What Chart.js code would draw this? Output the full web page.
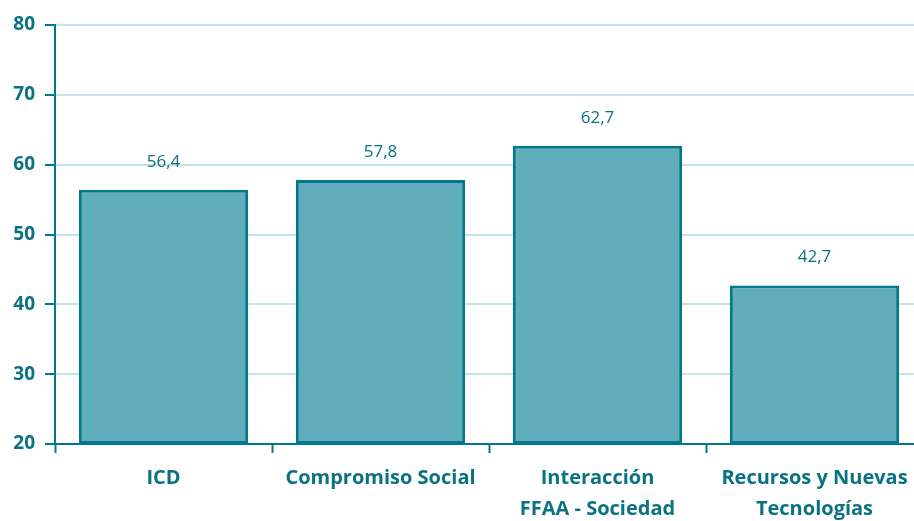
<!DOCTYPE html>
<html>
<head>
<meta charset="utf-8">
<script src="https://cdn.jsdelivr.net/npm/chart.js@4.4.0/dist/chart.umd.min.js"></script>
<style>
  html, body { margin: 0; padding: 0; background: #fff; overflow: hidden; }
  #wrap { width: 914px; height: 521px; overflow: hidden; }
  canvas { display: block; }
</style>
</head>
<body>
<div id="wrap"><canvas id="chart" width="923" height="521"></canvas></div>
<script>
const categories = ['ICD', 'Compromiso Social', ['Interacción', 'FFAA - Sociedad'], ['Recursos y Nuevas', 'Tecnologías']];
const values = [56.4, 57.8, 62.7, 42.7];
const yTicks = [20, 30, 40, 50, 60, 70, 80];

const teal = '#007a8a';
const textTeal = '#0b7282';
const barFill = '#62adbb';
const gridBlue = '#c6e3eb';

const valueLabels = {
    id: 'valueLabels',
    afterDatasetsDraw(chart) {
        const ctx = chart.ctx;
        const meta = chart.getDatasetMeta(0);
        ctx.save();
        ctx.fillStyle = textTeal;
        ctx.font = '17px "Open Sans"';
        ctx.textAlign = 'center';
        ctx.textBaseline = 'middle';
        meta.data.forEach((bar, i) => {
            ctx.fillText(values[i].toFixed(1).replace('.', ','), bar.x, bar.y - 28);
        });
        ctx.restore();
    }
};

new Chart(document.getElementById('chart').getContext('2d'), {
    type: 'bar',
    data: {
        labels: categories,
        datasets: [{
            data: values.map(v => [20, v]),
            backgroundColor: barFill,
            borderColor: teal,
            borderWidth: 3,
            borderSkipped: false,
            categoryPercentage: 0.78,
            barPercentage: 1
        }]
    },
    options: {
        responsive: false,
        animation: false,
        layout: { padding: { top: 25, right: 0, bottom: 0, left: 0 } },
        plugins: { legend: { display: false }, tooltip: { enabled: false } },
        scales: {
            x: {
                afterFit: s => { s.height = 77; },
                grid: { drawOnChartArea: false, offset: true, tickLength: 9, tickColor: teal, tickWidth: 2 },
                border: { color: teal, width: 2 },
                ticks: {
                    color: textTeal,
                    font: { family: '"Open Sans"', size: 20, weight: 'bold', lineHeight: 1.55 },
                    padding: 10,
                    maxRotation: 0,
                    autoSkip: false
                }
            },
            y: {
                min: 20,
                max: 80,
                afterFit: s => { s.width = 55; },
                afterBuildTicks: s => { s.ticks = yTicks.map(v => ({ value: v })); },
                grid: { color: gridBlue, lineWidth: 2, tickLength: 10, tickColor: teal, tickWidth: 2 },
                border: { color: teal, width: 2 },
                ticks: {
                    color: textTeal,
                    font: { family: '"Open Sans"', size: 19, weight: 'bold' },
                    padding: 10
                }
            }
        }
    },
    plugins: [valueLabels]
});
</script>
</body>
</html>
